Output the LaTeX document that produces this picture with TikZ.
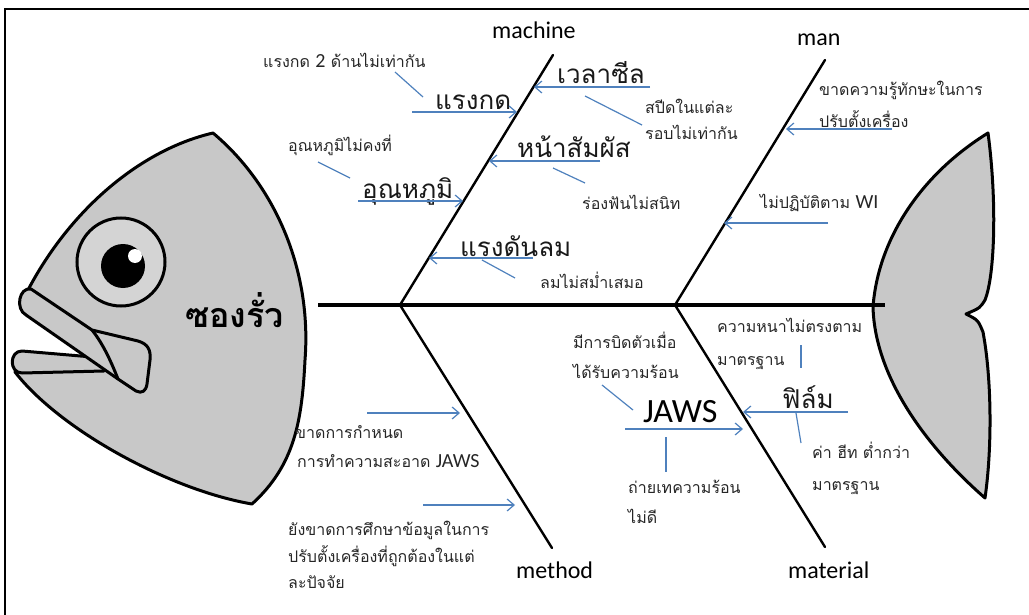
\documentclass[tikz,border=0pt]{standalone}
\usepackage{fontspec}
\setmainfont{Carlito}
\newfontfamily\thai[Script=Thai]{Loma}
\usetikzlibrary{arrows.meta}

\definecolor{causeblue}{RGB}{79,129,189}
\definecolor{fishgray}{RGB}{200,200,200}
\definecolor{eyegray}{RGB}{212,212,212}
\newcommand\lat[1]{{\rmfamily\fontsize{20}{22}\selectfont #1}}

\begin{document}
\begin{tikzpicture}[x=1pt,y=-1pt,
  bone/.style={line width=2.4pt, line cap=round},
  spine/.style={line width=4.5pt},
  cause/.style={draw=causeblue, line width=1.2pt, -{Straight Barb[length=7pt,width=12pt]}},
  link/.style={draw=causeblue, line width=1.2pt},
  outline/.style={draw=black, line width=3pt, fill=fishgray, line join=round},
  big/.style={font=\thai\fontsize{26}{28}\selectfont, text=black!90, inner sep=0pt, anchor=base west},
  note/.style={font=\thai\fontsize{16}{18}\selectfont, text=black!85, inner sep=0pt, anchor=base west},
  cat/.style={font=\fontsize{24}{26}\selectfont, inner sep=0pt, anchor=base west}]
\useasboundingbox (0,0) rectangle (1029,615);

% frame
\coordinate (fb) at (5,615);
\coordinate (fc) at (5,9);
\coordinate (fr) at (1029,9);
\draw[line width=1.5pt] (fb) -- (fc) -- (fr);

% fish head, with the open mouth left white
\draw[outline] (213,133) .. controls (275,185) and (312,270) .. (305,360)
  .. controls (302,420) and (295,465) .. (252,504)
  .. controls (170,490) and (60,430) .. (15,372)
  -- (30,365) -- (98,362) -- (40,318) -- (28,290)
  .. controls (70,210) and (140,150) .. cycle;
% lower lip
\draw[outline] (104,358) -- (22,351) .. controls (9,351) and (9,373) .. (22,373) -- (104,371) -- cycle;
% upper lip
\draw[outline] (31,289) -- (92,330) -- (138,341) .. controls (148,344) and (151,350) .. (150,360)
  -- (147,384) .. controls (146,391) and (142,394) .. (136,391)
  -- (118,379) -- (26,315) .. controls (15,309) and (19,287) .. cycle;
\draw[line width=3pt] (92,330) .. controls (104,345) and (112,364) .. (118,379);
% eye
\draw[line width=3pt, fill=eyegray] (121,262) circle[radius=44];
\fill[black] (123,266) circle[radius=22];
\fill[white] (135,256) circle[radius=7];
\node[font=\thai\bfseries\fontsize{34}{36}\selectfont, inner sep=0pt, anchor=base west] (effect) at (185,327) {ซองรั่ว};

% tail
\draw[outline] (873,307) .. controls (878,240) and (920,175) .. (988,133)
  .. controls (997,200) and (995,275) .. (985,300)
  .. controls (980,308) .. (966,314)
  .. controls (978,320) .. (983,332)
  .. controls (992,380) and (992,450) .. (985,498)
  .. controls (930,450) and (875,380) .. cycle;

% spine and bones
\coordinate (sp0) at (318,305);
\coordinate (sp1) at (885,305);
\coordinate (j1) at (400,305);
\coordinate (j2) at (675,305);
\coordinate (mach) at (553,55);
\coordinate (man) at (825,60);
\coordinate (meth) at (552,548);
\coordinate (mat) at (825,547);
\draw[spine] (sp0) -- (sp1);
\draw[bone] (j1) -- (mach);
\draw[bone] (j2) -- (man);
\draw[bone] (j1) -- (meth);
\draw[bone] (j2) -- (mat);

% category labels
\node[cat] (lmach) at (492,39) {machine};
\node[cat] (lman) at (797,46) {man};
\node[cat] (lmeth) at (516,578) {method};
\node[cat] (lmat) at (788,578) {material};

% machine causes
\node[big] (c1) at (435,110) {แรงกด};
\coordinate (a1s) at (412,112); \coordinate (a1e) at (517,112);
\draw[cause] (a1s) -- (a1e);
\node[note] (n1) at (263,68) {แรงกด \lat{2} ด้านไม่เท่ากัน};
\coordinate (l1s) at (395,72); \coordinate (l1e) at (423,97);
\draw[link] (l1s) -- (l1e);

\node[big] (c2) at (362,199) {อุณหภูมิ};
\coordinate (a2s) at (358,201); \coordinate (a2e) at (463,201);
\draw[cause] (a2s) -- (a2e);
\node[note] (n2) at (288,152) {อุณหภูมิไม่คงที่};
\coordinate (l2s) at (318,162); \coordinate (l2e) at (350,178);
\draw[link] (l2s) -- (l2e);

\node[big] (c3) at (460,256) {แรงดันลม};
\coordinate (a3s) at (533,258); \coordinate (a3e) at (429,258);
\draw[cause] (a3s) -- (a3e);
\node[note] (n3) at (540,288) {ลมไม่สม่ำเสมอ};
\coordinate (l3s) at (482,260); \coordinate (l3e) at (515,278);
\draw[link] (l3s) -- (l3e);

\node[big] (c4) at (557,84) {เวลาซีล};
\coordinate (a4s) at (650,87); \coordinate (a4e) at (534,87);
\draw[cause] (a4s) -- (a4e);
\node[note] (n4a) at (645,114) {สปีดในแต่ละ};
\node[note] (n4b) at (645,140) {รอบไม่เท่ากัน};
\coordinate (l4s) at (585,96); \coordinate (l4e) at (642,125);
\draw[link] (l4s) -- (l4e);

\node[big] (c5) at (517,158) {หน้าสัมผัส};
\coordinate (a5s) at (600,161); \coordinate (a5e) at (489,161);
\draw[cause] (a5s) -- (a5e);
\node[note] (n5) at (582,210) {ร่องฟันไม่สนิท};
\coordinate (l5s) at (553,168); \coordinate (l5e) at (585,183);
\draw[link] (l5s) -- (l5e);

% man causes
\node[note] (n6a) at (819,96) {ขาดความรู้ทักษะในการ};
\node[note] (n6b) at (819,128) {ปรับตั้งเครื่อง};
\coordinate (a6s) at (892,129); \coordinate (a6e) at (786,129);
\draw[cause] (a6s) -- (a6e);
\node[note] (n7) at (760,209) {ไม่ปฏิบัติตาม \lat{WI}};
\coordinate (a7s) at (828,223); \coordinate (a7e) at (724,223);
\draw[cause] (a7s) -- (a7e);

% material causes
\node[big] (c8) at (782,408) {ฟิล์ม};
\coordinate (a8s) at (848,412); \coordinate (a8e) at (743,412);
\draw[cause] (a8s) -- (a8e);
\node[note] (n8a) at (717,332) {ความหนาไม่ตรงตาม};
\node[note] (n8b) at (717,365) {มาตรฐาน};
\coordinate (l6s) at (801,345); \coordinate (l6e) at (801,368);
\draw[link] (l6s) -- (l6e);
\node[note] (n9a) at (812,458) {ค่า ฮีท ต่ำกว่า};
\node[note] (n9b) at (812,490) {มาตรฐาน};
\coordinate (l7s) at (796,413); \coordinate (l7e) at (801,443);
\draw[link] (l7s) -- (l7e);

\node[cat, font=\fontsize{34}{36}\selectfont] (c9) at (643,422) {JAWS};
\coordinate (a9s) at (625,429); \coordinate (a9e) at (743,429);
\draw[cause] (a9s) -- (a9e);
\node[note] (n10a) at (573,348) {มีการบิดตัวเมื่อ};
\node[note] (n10b) at (573,378) {ได้รับความร้อน};
\coordinate (l8s) at (602,385); \coordinate (l8e) at (633,410);
\draw[link] (l8s) -- (l8e);
\node[note] (n11a) at (628,493) {ถ่ายเทความร้อน};
\node[note] (n11b) at (628,523) {ไม่ดี};
\coordinate (l9s) at (666,437); \coordinate (l9e) at (666,472);
\draw[link] (l9s) -- (l9e);

% method causes
\coordinate (a10s) at (367,413); \coordinate (a10e) at (460,413);
\draw[cause] (a10s) -- (a10e);
\node[note] (n12a) at (295,438) {ขาดการกำหนด};
\node[note] (n12b) at (297,467) {การทำความสะอาด \lat{JAWS}};
\coordinate (a11s) at (423,505); \coordinate (a11e) at (515,505);
\draw[cause] (a11s) -- (a11e);
\node[note] (n13a) at (288,535) {ยังขาดการศึกษาข้อมูลในการ};
\node[note] (n13b) at (288,562) {ปรับตั้งเครื่องที่ถูกต้องในแต่};
\node[note] (n13c) at (288,588) {ละปัจจัย};
\end{tikzpicture}
\end{document}
